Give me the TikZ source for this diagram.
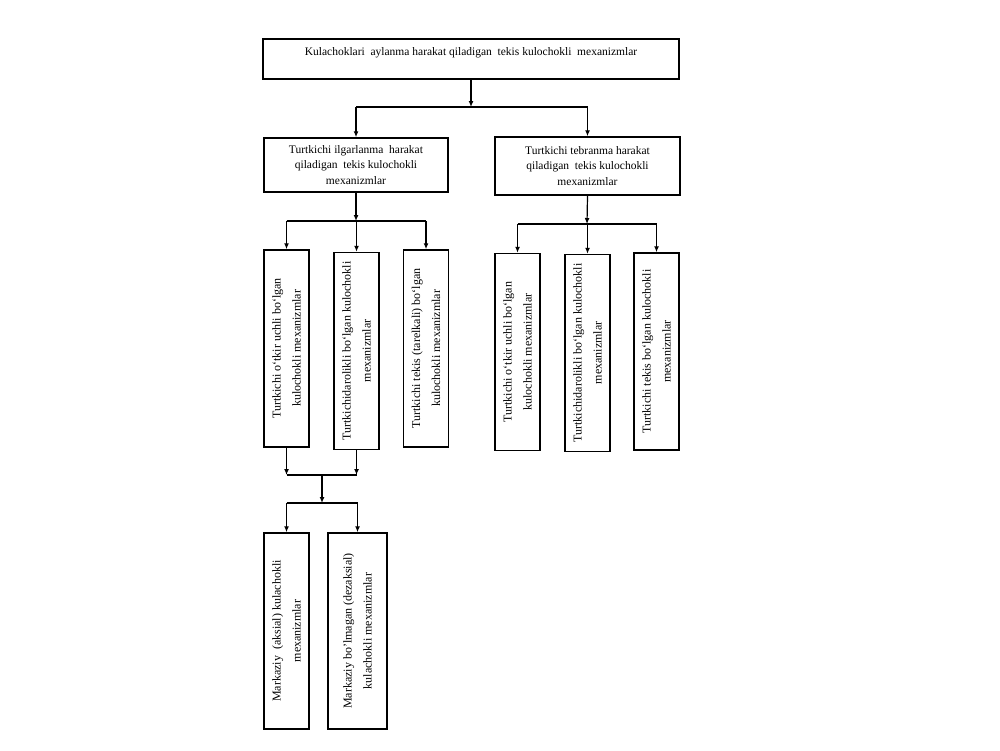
\documentclass[tikz,border=0pt]{standalone}
\usepackage{fontspec}
\setmainfont{Liberation Serif}
\usetikzlibrary{arrows.meta,positioning}

\tikzset{
  box/.style={draw, line width=1.5pt, align=center, inner sep=2pt, font=\fontsize{11.5}{15.5}\selectfont},
  vbox/.style={box, rotate=90, minimum width=197pt, minimum height=45pt, font=\fontsize{12}{20}\selectfont},
  link/.style={line width=1.2pt},
  arr/.style={link, -{Latex[length=6pt,width=5pt]}}
}

\begin{document}
\begin{tikzpicture}[x=1pt,y=-1pt]
    \useasboundingbox (0,0) rectangle (1000,750);
    % top level
    \node[box, minimum width=416pt, minimum height=40pt] (top) at (471,59) {Kulachoklari\ \ aylanma harakat qiladigan\ \ tekis kulochokli\ \ mexanizmlar\\ \mbox{}};
    % second level
    \node[box, minimum width=184pt, minimum height=54pt] (ilg) at (356,165) {Turtkichi ilgarlanma\ \ harakat\\ qiladigan\ \ tekis kulochokli\\ mexanizmlar};
    \node[box, minimum width=185pt, minimum height=58pt] (teb) at (587.5,166) {Turtkichi tebranma harakat\\ qiladigan\ \ tekis kulochokli\\ mexanizmlar};
    % third level, ilgarlanma (rotated: east is the top edge)
    \node[vbox] (ilgA) at (286.5,348.5) {Turtkichi o‘tkir uchli bo‘lgan\\ kulochokli mexanizmlar};
    \node[vbox] (ilgB) at (356.5,351) {Turtkichidarolikli bo‘lgan kulochokli\\ mexanizmlar};
    \node[vbox] (ilgC) at (426,348.5) {Turtkichi tekis (tarelkali) bo‘lgan\\ kulochokli mexanizmlar};
    % third level, tebranma
    \node[vbox] (tebA) at (517.5,352) {Turtkichi o‘tkir uchli bo‘lgan\\ kulochokli mexanizmlar};
    \node[vbox] (tebB) at (587.5,353) {Turtkichidarolikli bo‘lgan kulochokli\\ mexanizmlar};
    \node[vbox] (tebC) at (656.5,351.5) {Turtkichi tekis bo‘lgan kulochokli\\ mexanizmlar};
    % fourth level
    \node[vbox, minimum width=196pt] (aks) at (286.5,631) {Markaziy\ \ (aksial) kulachokli\\ mexanizmlar};
    \node[vbox, minimum width=196pt, minimum height=59pt] (dez) at (357.5,631) {Markaziy bo'lmagan (dezaksial)\\ kulachokli mexanizmlar};
    % buses
    \coordinate (busA) at (471,107);
    \coordinate (busB) at (356,221);
    \coordinate (busC) at (587,224);
    \coordinate (busD) at (322,475);
    \coordinate (busE) at (322,503);
    % top -> second
    \draw[arr] (top.south) -- (busA);
    \draw[link] (ilg.north |- busA) -- (teb.north |- busA);
    \draw[arr] (ilg.north |- busA) -- (ilg.north);
    \draw[arr] (teb.north |- busA) -- (teb.north);
    % ilgarlanma -> third
    \draw[arr] (ilg.south) -- (busB);
    \draw[link] (ilgA.east |- busB) -- (ilgC.east |- busB);
    \foreach \n in {ilgA,ilgB,ilgC}
        \draw[arr] (\n.east |- busB) -- (\n.east);
    % tebranma -> third
    \draw[arr] (teb.south) -- (busC);
    \draw[link] (tebA.east |- busC) -- (tebC.east |- busC);
    \foreach \n in {tebA,tebB,tebC}
        \draw[arr] (\n.east |- busC) -- (\n.east);
    % third -> fourth
    \draw[arr] (ilgA.west) -- (ilgA.west |- busD);
    \draw[arr] (ilgB.west) -- (ilgB.west |- busD);
    \draw[link] (ilgA.west |- busD) -- (ilgB.west |- busD);
    \draw[arr] (busD) -- (busE);
    \draw[link] (aks.east |- busE) -- (dez.east |- busE);
    \draw[arr] (aks.east |- busE) -- (aks.east);
    \draw[arr] (dez.east |- busE) -- (dez.east);
\end{tikzpicture}
\end{document}
